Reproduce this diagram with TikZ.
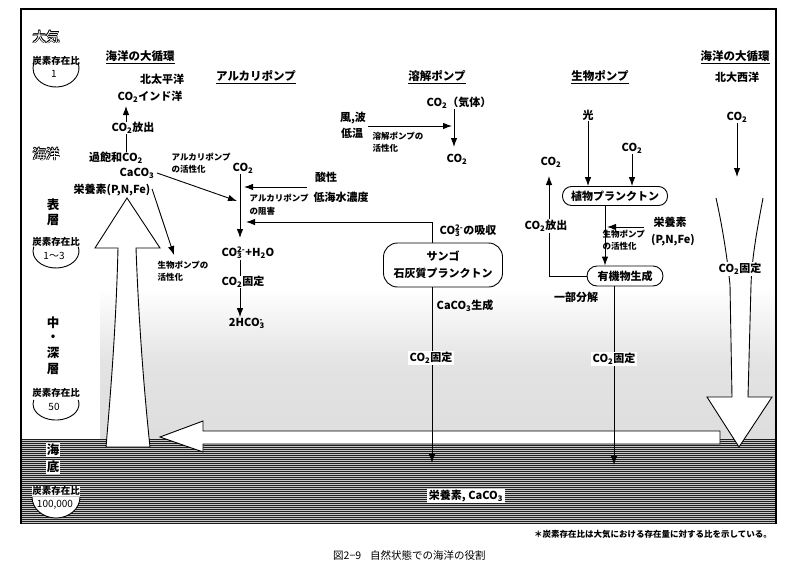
\documentclass[tikz,border=0pt]{standalone}
\usepackage{fontspec}
\setmainfont{Noto Sans CJK JP}
\usetikzlibrary{arrows.meta}
\newcommand\sub[1]{\textsubscript{#1}}
\newcommand\subsup[2]{\rlap{\textsubscript{#1}}\textsuperscript{#2}}
\begin{document}
\begin{tikzpicture}[x=1pt,y=-1pt,
  lab/.style={font=\fontsize{11}{13}\selectfont\bfseries, inner sep=0.5pt},
  sm/.style={font=\fontsize{8.5}{11.5}\selectfont\bfseries, inner sep=0.5pt, align=left},
  ttl/.style={font=\fontsize{11.5}{13}\selectfont\bfseries, inner sep=1pt},
  side/.style={font=\fontsize{12.5}{14}\selectfont\bfseries, inner sep=1pt},
  ratio/.style={font=\fontsize{9.5}{11}\selectfont\bfseries, inner sep=0.5pt},
  num/.style={font=\fontsize{10}{11}\selectfont, inner sep=0.5pt},
  hollow/.style={font=\fontsize{13.5}{15}\selectfont, inner sep=0pt},
  ln/.style={line width=0.9pt},
  arr/.style={ln, -{Latex[length=9pt,width=6.5pt]}},
  pillbox/.style={draw, line width=0.9pt, font=\fontsize{11}{13}\selectfont\bfseries, inner sep=1pt},
  bigarrow/.style={draw, fill=white, line width=0.9pt},
]
\useasboundingbox (0,0) rectangle (800,568);
\fill[white] (0,0) rectangle (800,568);

% speckled middle/deep layer
\shade[top color=white, bottom color=black!13, middle color=black!11] (100,288) rectangle (776,439);
% sea floor band
\fill[black!88] (21,439) rectangle (777,524);
\foreach \yy in {440,442,...,523} \draw[gray!45, line width=0.35pt] (21,\yy) -- (777,\yy);

% frame
\draw[line width=1.2pt] (21,524) -- (21,9) -- (776,9) -- (776,524);

% ---------- left column labels
\foreach \dx/\dy in {-0.7/0,0.7/0,0/-0.7,0/0.7,-0.5/-0.5,0.5/0.5,-0.5/0.5,0.5/-0.5}
  \node[hollow] at (46+\dx,37+\dy) {大気};
\node[hollow, text=white] (atm) at (46,37) {大気};
\foreach \dx/\dy in {-0.7/0,0.7/0,0/-0.7,0/0.7,-0.5/-0.5,0.5/0.5,-0.5/0.5,0.5/-0.5}
  \node[hollow] at (46+\dx,154+\dy) {海洋};
\node[hollow, text=white] (ocean) at (46,154) {海洋};

\node[ratio] (r1) at (56,61) {炭素存在比};
\node[num] (r1n) at (54,74) {1};
\draw[ln] (78.2,63.1) arc[start angle=-15, end angle=195, x radius=23, y radius=19];

\node[side] (hyo) at (53,205) {表};
\node[side] (so1) at (53,220) {層};
\node[ratio] (r2) at (56,242) {炭素存在比};
\node[num] (r2n) at (54,256) {1〜3};
\draw[ln] (78.2,246.6) arc[start angle=-15, end angle=195, x radius=23, y radius=17];

\node[side] (chu) at (53,323) {中};
\node[side] (dot) at (53,338) {・};
\node[side] (shin) at (53,353) {深};
\node[side] (so2) at (53,369) {層};
\node[ratio] (r3) at (56,393) {炭素存在比};
\node[num] (r3n) at (54,407) {50};
\draw[ln] (78.2,399.9) arc[start angle=-15, end angle=195, x radius=23, y radius=16];

\node[side, fill=white] (kai) at (53,450) {海};
\node[side, fill=white] (tei) at (53,467) {底};
\draw[ln, fill=white] (80,497) arc[start angle=0, end angle=180, x radius=24, y radius=21];
\node[ratio, fill=white] (r4) at (56,491) {炭素存在比};
\node[num] (r4n) at (55,505) {100,000};

% ---------- big arrows
\draw[bigarrow] (127,198) -- (160,248) -- (136,248) .. controls (139,330) and (145,400) .. (150,447)
  -- (106,447) .. controls (110,400) and (116,330) .. (118,248) -- (95,248) -- cycle;
\draw[bigarrow] (160,437) -- (203,421) -- (203,431) -- (720,431) -- (720,444) -- (203,444) -- (203,452) -- cycle;
\draw[bigarrow] (716,198) .. controls (722,225) and (727,255) .. (730,285) -- (732,397) -- (707,397)
  -- (739,447) -- (772,397) -- (748,397) -- (751,285) .. controls (752,255) and (758,225) .. (763,198);

% ---------- left top column (great ocean circulation)
\node[ttl] (oc1) at (140,57) {\underline{海洋の大循環}};
\node[lab] (np) at (162,79) {北太平洋};
\node[lab] (io) at (150,97) {CO\sub{2}インド洋};
\node[lab] (rel) at (133,128) {CO\sub{2}放出};
\coordinate (a1) at (126,106);
\draw[arr] (rel.north -| a1) -- (a1);
\node[lab] (sat) at (116,158) {過飽和CO\sub{2}};
\draw[ln] (rel.south -| a1) -- (sat.north -| a1);
\node[lab] (caco) at (137,173) {CaCO\sub{3}};
\node[lab] (nut) at (112,190) {栄養素(P,N,Fe)};
\coordinate (ak1) at (237,201);
\draw[arr] ([xshift=2pt]caco.east) -- (ak1);
\node[sm, anchor=west] (akact) at (171,163) {アルカリポンプ\\の活性化};
\coordinate (bp1) at (174,255);
\draw[arr] ([xshift=1pt,yshift=1pt]nut.east) -- (bp1);
\node[sm, anchor=west] (bpact) at (157,271) {生物ポンプの\\活性化};

% ---------- alkali pump
\node[ttl] (akt) at (256,77) {\underline{アルカリポンプ}};
\node[lab] (akco2) at (243,168) {CO\sub{2}};
\coordinate (ak2) at (240,238);
\draw[arr] (akco2.south -| ak2) -- (ak2);
\node[lab] (eq1) at (248,253) {CO\subsup{3}{2-}+H\sub{2}O};
\node[lab] (fix1) at (243,282) {CO\sub{2}固定};
\draw[ln] (eq1.south -| ak2) -- (fix1.north -| ak2);
\node[lab] (hco) at (246,323) {2HCO\subsup{3}{-}};
\draw[arr] (fix1.south -| ak2) -- (hco.north -| ak2);
\node[lab] (acid) at (326,177) {酸性};
\node[lab, anchor=west] (low) at (313,197) {低海水濃度};
\node[sm, anchor=west] (inh1) at (249,198) {アルカリポンプ};
\node[sm, anchor=west] (inh2) at (249,211) {の阻害};
\coordinate (acs) at (307,187);
\coordinate (ak3) at (244,187);
\draw[arr] (acs) -- (ak3);

% ---------- dissolution pump
\node[ttl] (dst) at (437,77) {\underline{溶解ポンプ}};
\node[lab] (gas) at (459,103) {CO\sub{2}（気体）};
\coordinate (d1) at (454,147);
\draw[arr] (gas.south -| d1) -- (d1);
\node[lab] (dco2) at (457,159) {CO\sub{2}};
\node[lab] (wind) at (353,118) {風,波};
\node[lab] (lowt) at (352,133) {低温};
\coordinate (d0) at (368,126);
\coordinate (d2) at (452,126);
\draw[arr] (d0) -- (d2);
\node[sm, anchor=west] (dact) at (372,142) {溶解ポンプの\\活性化};

% ---------- coral / calcareous plankton
\node[pillbox, rounded corners=14pt, minimum width=119pt, minimum height=44pt, align=center,
  font=\fontsize{11}{17}\selectfont\bfseries] (coral) at (443,265) {サンゴ\\石灰質プランクトン};
\coordinate (c1) at (432,222);
\coordinate (ak4) at (246,222);
\draw[arr] (coral.north -| c1) -- (c1) -- (ak4);
\node[lab, anchor=west] (co3abs) at (439,231) {CO\subsup{3}{2-}の吸収};
\coordinate (c2) at (432,463);
\draw[arr] (coral.south -| c1) -- (c2);
\node[lab, anchor=west] (cagen) at (436,306) {CaCO\sub{3}生成};
\node[lab, fill=white, inner sep=1.5pt] (fix2) at (431,358) {CO\sub{2}固定};

% ---------- biological pump
\node[ttl] (bpt) at (600,77) {\underline{生物ポンプ}};
\node[lab] (light) at (588,115) {光};
\node[pillbox, rounded corners=9pt, minimum width=105pt, minimum height=19pt] (phyto) at (615,196) {植物プランクトン};
\draw[arr] (light.south) -- (phyto.north -| light);
\node[lab] (bco2) at (632,148) {CO\sub{2}};
\draw[arr] (bco2.south) -- (phyto.north -| bco2);
\node[pillbox, rounded corners=10pt, minimum width=76pt, minimum height=20pt] (org) at (625,276) {有機物生成};
\coordinate (p3) at (605,230);
\draw[arr] (phyto.south -| p3) -- (org.north -| p3);
\coordinate (p4) at (644,227);
\coordinate (p4e) at (607,227);
\draw[arr] (p4) -- (p4e);
\node[lab] (bnut1) at (670,222) {栄養素};
\node[lab] (bnut2) at (673,240) {(P,N,Fe)};
\node[sm, anchor=west] (bact) at (602,240) {生物ポンプ\\の活性化};
\coordinate (p5) at (549,176);
\draw[arr] (org.west) -- (org.west -| p5) -- (p5);
\node[lab] (bco2b) at (551,162) {CO\sub{2}};
\node[lab, fill=white, inner sep=1.5pt] (rel2) at (546,226) {CO\sub{2}放出};
\node[lab] (part) at (576,297) {一部分解};
\coordinate (p6) at (614,465);
\draw[arr] (org.south -| p6) -- (p6);
\node[lab, fill=white, inner sep=1.5pt] (fix3) at (614,359) {CO\sub{2}固定};

% ---------- right column
\node[ttl] (oc2) at (735,57) {\underline{海洋の大循環}};
\node[lab] (na) at (737,77) {北大西洋};
\node[lab] (rco2) at (737,117) {CO\sub{2}};
\coordinate (r1e) at (737,177);
\draw[arr] (rco2.south) -- (r1e);
\node[lab, fill=white, inner sep=1.5pt] (rfix) at (740,269) {CO\sub{2}固定};

% ---------- bottom texts
\node[lab, fill=white, inner sep=1.5pt] (bot) at (466,496) {栄養素, CaCO\sub{3}};
\node[font=\fontsize{8.5}{10}\selectfont\bfseries, anchor=east, inner sep=0pt] (fn) at (772,534) {＊炭素存在比は大気における存在量に対する比を示している。};
\node[font=\fontsize{10.5}{12}\selectfont, anchor=west, inner sep=0pt] (cap) at (333,555) {図2−9\hspace{9pt}自然状態での海洋の役割};
\end{tikzpicture}
\end{document}
